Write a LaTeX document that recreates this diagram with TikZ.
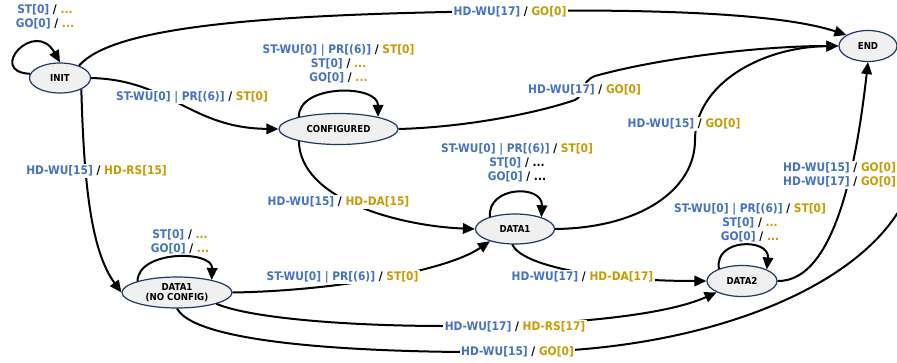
\documentclass[tikz,border=0pt]{standalone}
\usepackage{fontspec}
\newfontfamily\dvc{DejaVu Sans Condensed Bold}
\usetikzlibrary{shapes.geometric,arrows.meta}
\definecolor{inblue}{HTML}{4472C4}
\definecolor{outgold}{HTML}{C89B00}
\definecolor{stateline}{HTML}{1F3864}
\definecolor{statefill}{HTML}{F0F0F0}
\newcommand{\ckin}[1]{\textcolor{inblue}{#1}}
\newcommand{\ckout}[1]{\textcolor{outgold}{#1}}
\newcommand{\ckio}[2]{\ckin{#1} / \ckout{#2}}
\begin{document}
\begin{tikzpicture}[x=1pt,y=-1pt,
 state/.style={ellipse, draw=stateline, line width=1.2pt, fill=statefill, inner sep=0pt,
   font=\dvc\fontsize{9.6}{10.5}\selectfont, align=center},
 tr/.style={line width=2pt, -{Triangle[length=12pt,width=10.5pt]}},
 lbl/.style={fill=white, inner sep=1.5pt, align=center, font=\dvc\fontsize{11.8}{14.2}\selectfont},
 looplbl/.style={inner sep=1pt, align=center, font=\dvc\fontsize{11.8}{14.2}\selectfont}]
\useasboundingbox (0,0) rectangle (897,362);
\clip (0,0) rectangle (897,362);

\node[state, minimum width=61pt, minimum height=30pt] (init) at (60,78) {INIT};
\node[state, minimum width=119pt, minimum height=31pt] (conf) at (338.5,129) {CONFIGURED};
\node[state, minimum width=79pt, minimum height=30pt] (d1) at (515,229) {DATA1};
\node[state, minimum width=110pt, minimum height=31pt] (d1nc) at (177,292.5) {DATA1\\(NO CONFIG)};
\node[state, minimum width=70pt, minimum height=31pt] (d2) at (742,281) {DATA2};
\node[state, minimum width=58pt, minimum height=31pt] (endn) at (868,46) {END};

% self loops
\draw[tr] (init.172) .. controls (-14,72) and (35,18) .. (init.north);
\draw[tr] (conf.163) .. controls (298,84) and (378,84) .. (conf.17);
\draw[tr] (d1.154) .. controls (487,186) and (543,184) .. (d1.24);
\draw[tr] (d1nc.164) .. controls (138,250) and (213,250) .. (d1nc.20);
\draw[tr] (d2.152) .. controls (714,238) and (770,238) .. (d2.25);

% transitions
\draw[tr] (init.33) .. controls (112,28) and (250,14) .. (510,11) .. controls (650,9) and (780,13) .. (endn.153);
\draw[tr] (init.east) .. controls (170,80) and (190,128) .. (conf.west);
\draw[tr] (init.-28) .. controls (84,190) and (92,252) .. (d1nc.west);
\draw[tr] (conf.east) .. controls (470,127) and (540,112) .. (575,100) .. controls (585,95) and (580,82) .. (595,76) .. controls (660,58) and (760,46) .. (endn.west);
\draw[tr] (conf.197) .. controls (300,200) and (400,226) .. (d1.west);
\draw[tr] (d1.east) .. controls (640,228) and (695,190) .. (695,140) .. controls (695,85) and (760,47) .. (endn.west);
\draw[tr] (d1.-100) .. controls (522,266) and (600,281) .. (d2.west);
\draw[tr] (d1nc.east) .. controls (330,291) and (445,272) .. (d1.206);
\draw[tr] (d1nc.-16) .. controls (285,333) and (620,336) .. (d2.204);
\draw[tr] (d1nc.south) .. controls (200,350) and (420,353) .. (520,352) .. controls (700,351) and (860,290) .. (905,200) .. controls (940,130) and (935,46) .. (endn.east);
\draw[tr] (d2.east) .. controls (838,282) and (858,150) .. (endn.south);

% labels
\node[looplbl] (linitloop) at (45,17) {\ckio{ST[0]}{...}\\\ckio{GO[0]}{...}};
\node[looplbl] (lconfloop) at (338.5,63.5) {\ckio{ST-WU[0] | PR[(6)]}{ST[0]}\\\ckio{ST[0]}{...}\\\ckio{GO[0]}{...}};
\node[looplbl] (ld1loop) at (517,162.5) {\ckio{ST-WU[0] | PR[(6)]}{ST[0]}\\\ckin{ST[0]} / ...\\\ckin{GO[0]} / ...};
\node[looplbl] (ld1ncloop) at (180,242) {\ckio{ST[0]}{...}\\\ckio{GO[0]}{...}};
\node[looplbl] (ld2loop) at (750,223) {\ckio{ST-WU[0] | PR[(6)]}{ST[0]}\\\ckio{ST[0]}{...}\\\ckio{GO[0]}{...}};

\node[lbl] (linitend) at (510,11.5) {\ckio{HD-WU[17]}{GO[0]}};
\node[lbl] (linitconf) at (192,97) {\ckio{ST-WU[0] | PR[(6)]}{ST[0]}};
\node[lbl] (linitd1nc) at (96.5,171) {\ckio{HD-WU[15]}{HD-RS[15]}};
\node[lbl] (lconfend) at (584.5,90) {\ckio{HD-WU[17]}{GO[0]}};
\node[lbl] (lconfd1) at (338.5,202) {\ckio{HD-WU[15]}{HD-DA[15]}};
\node[lbl] (ld1end) at (684,124) {\ckio{HD-WU[15]}{GO[0]}};
\node[lbl] (ld1d2) at (582.5,277) {\ckio{HD-WU[17]}{HD-DA[17]}};
\node[lbl] (ld1ncd1) at (342.5,277) {\ckio{ST-WU[0] | PR[(6)]}{ST[0]}};
\node[lbl] (ld1ncd2) at (515,327) {\ckio{HD-WU[17]}{HD-RS[17]}};
\node[lbl] (ld1ncend) at (517.5,352) {\ckio{HD-WU[15]}{GO[0]}};
\node[lbl] (ld2end) at (839.5,175) {\ckio{HD-WU[15]}{GO[0]}\\\ckio{HD-WU[17]}{GO[0]}};
\end{tikzpicture}
\end{document}
